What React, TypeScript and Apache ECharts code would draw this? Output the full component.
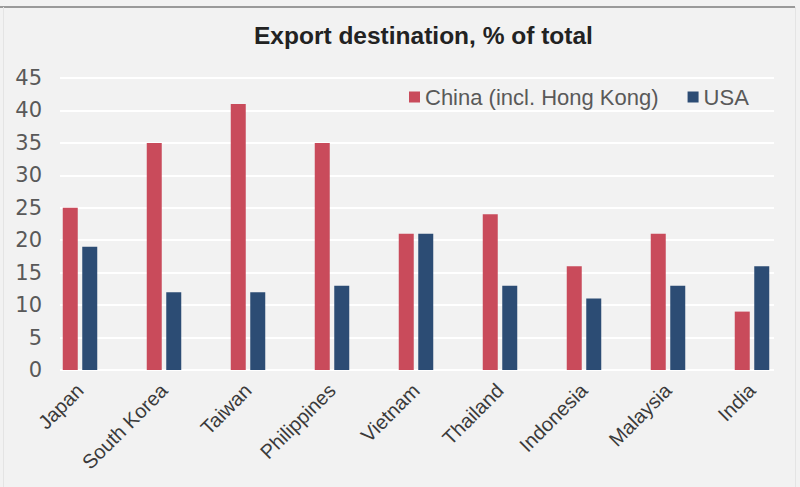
import React, { useEffect, useRef } from "react";
import * as echarts from "echarts";

const categories = ["Japan", "South Korea", "Taiwan", "Philippines", "Vietnam", "Thailand", "Indonesia", "Malaysia", "India"];
const chinaValues = [25, 35, 41, 35, 21, 24, 16, 21, 9];
const usaValues = [19, 12, 12, 13, 21, 13, 11, 13, 16];
const seriesNames = ["China (incl. Hong Kong)", "USA"];
const titleText = "Export destination, % of total";

export default function App() {
  const ref = useRef<HTMLDivElement>(null);
  useEffect(() => {
    document.body.style.margin = "0";
    document.body.style.background = "#f2f2f2";
    const chart = echarts.init(ref.current!, null, { renderer: "svg" });
    chart.setOption({
      animation: false,
      backgroundColor: "#f2f2f2",
      title: {
        text: titleText,
        left: 249,
        top: 18,
        textStyle: { fontFamily: "Liberation Sans", fontWeight: "bold", fontSize: 24.5, color: "#222222" },
      },
      legend: {
        data: seriesNames,
        left: 404,
        top: 81,
        icon: "rect",
        itemWidth: 11,
        itemHeight: 11,
        itemGap: 29,
        textStyle: { fontFamily: "Liberation Sans", fontSize: 22, color: "#595959", lineHeight: 22 },
      },
      graphic: [
        { type: "line", shape: { x1: 0, y1: 7, x2: 795, y2: 7 }, style: { stroke: "#9a9a9a", lineWidth: 2 } },
        { type: "line", shape: { x1: 3.5, y1: 7, x2: 3.5, y2: 487 }, style: { stroke: "#e4e4e4", lineWidth: 1 } },
        { type: "line", shape: { x1: 795.5, y1: 7, x2: 795.5, y2: 487 }, style: { stroke: "#e4e4e4", lineWidth: 1 } },
      ],
      grid: [
        { left: 38, right: 6, top: 78, bottom: 117 },
        { left: 60, right: 26, top: 78, bottom: 117 },
      ],
      xAxis: [
        {
          type: "category",
          gridIndex: 0,
          data: categories,
          axisLine: { show: false },
          axisTick: { show: false },
          axisLabel: {
            rotate: 45,
            margin: 17,
            fontFamily: "Liberation Sans",
            fontSize: 20,
            color: "#3a3a3a",
          },
        },
        { type: "value", gridIndex: 1, show: false, min: 0, max: 1 },
      ],
      yAxis: [
        { type: "value", gridIndex: 0, min: 0, max: 45, interval: 5, show: false, splitLine: { show: false } },
        {
          type: "value",
          gridIndex: 1,
          min: 0,
          max: 45,
          interval: 5,
          axisLine: { show: false },
          axisTick: { show: false },
          axisLabel: { margin: 18, fontFamily: "DejaVu Sans", fontSize: 21, color: "#595959" },
          splitLine: { lineStyle: { color: "#ffffff", width: 2 } },
        },
      ],
      series: [
        {
          name: seriesNames[0],
          type: "bar",
          xAxisIndex: 0,
          yAxisIndex: 0,
          data: chinaValues,
          barWidth: 15,
          barGap: "30%",
          itemStyle: { color: "#c94b5b" },
        },
        {
          name: seriesNames[1],
          type: "bar",
          xAxisIndex: 0,
          yAxisIndex: 0,
          data: usaValues,
          barWidth: 15,
          barGap: "30%",
          itemStyle: { color: "#2c4c74" },
        },
      ],
    });
    return () => chart.dispose();
  }, []);
  return <div ref={ref} style={{ width: 800, height: 487 }} />;
}
